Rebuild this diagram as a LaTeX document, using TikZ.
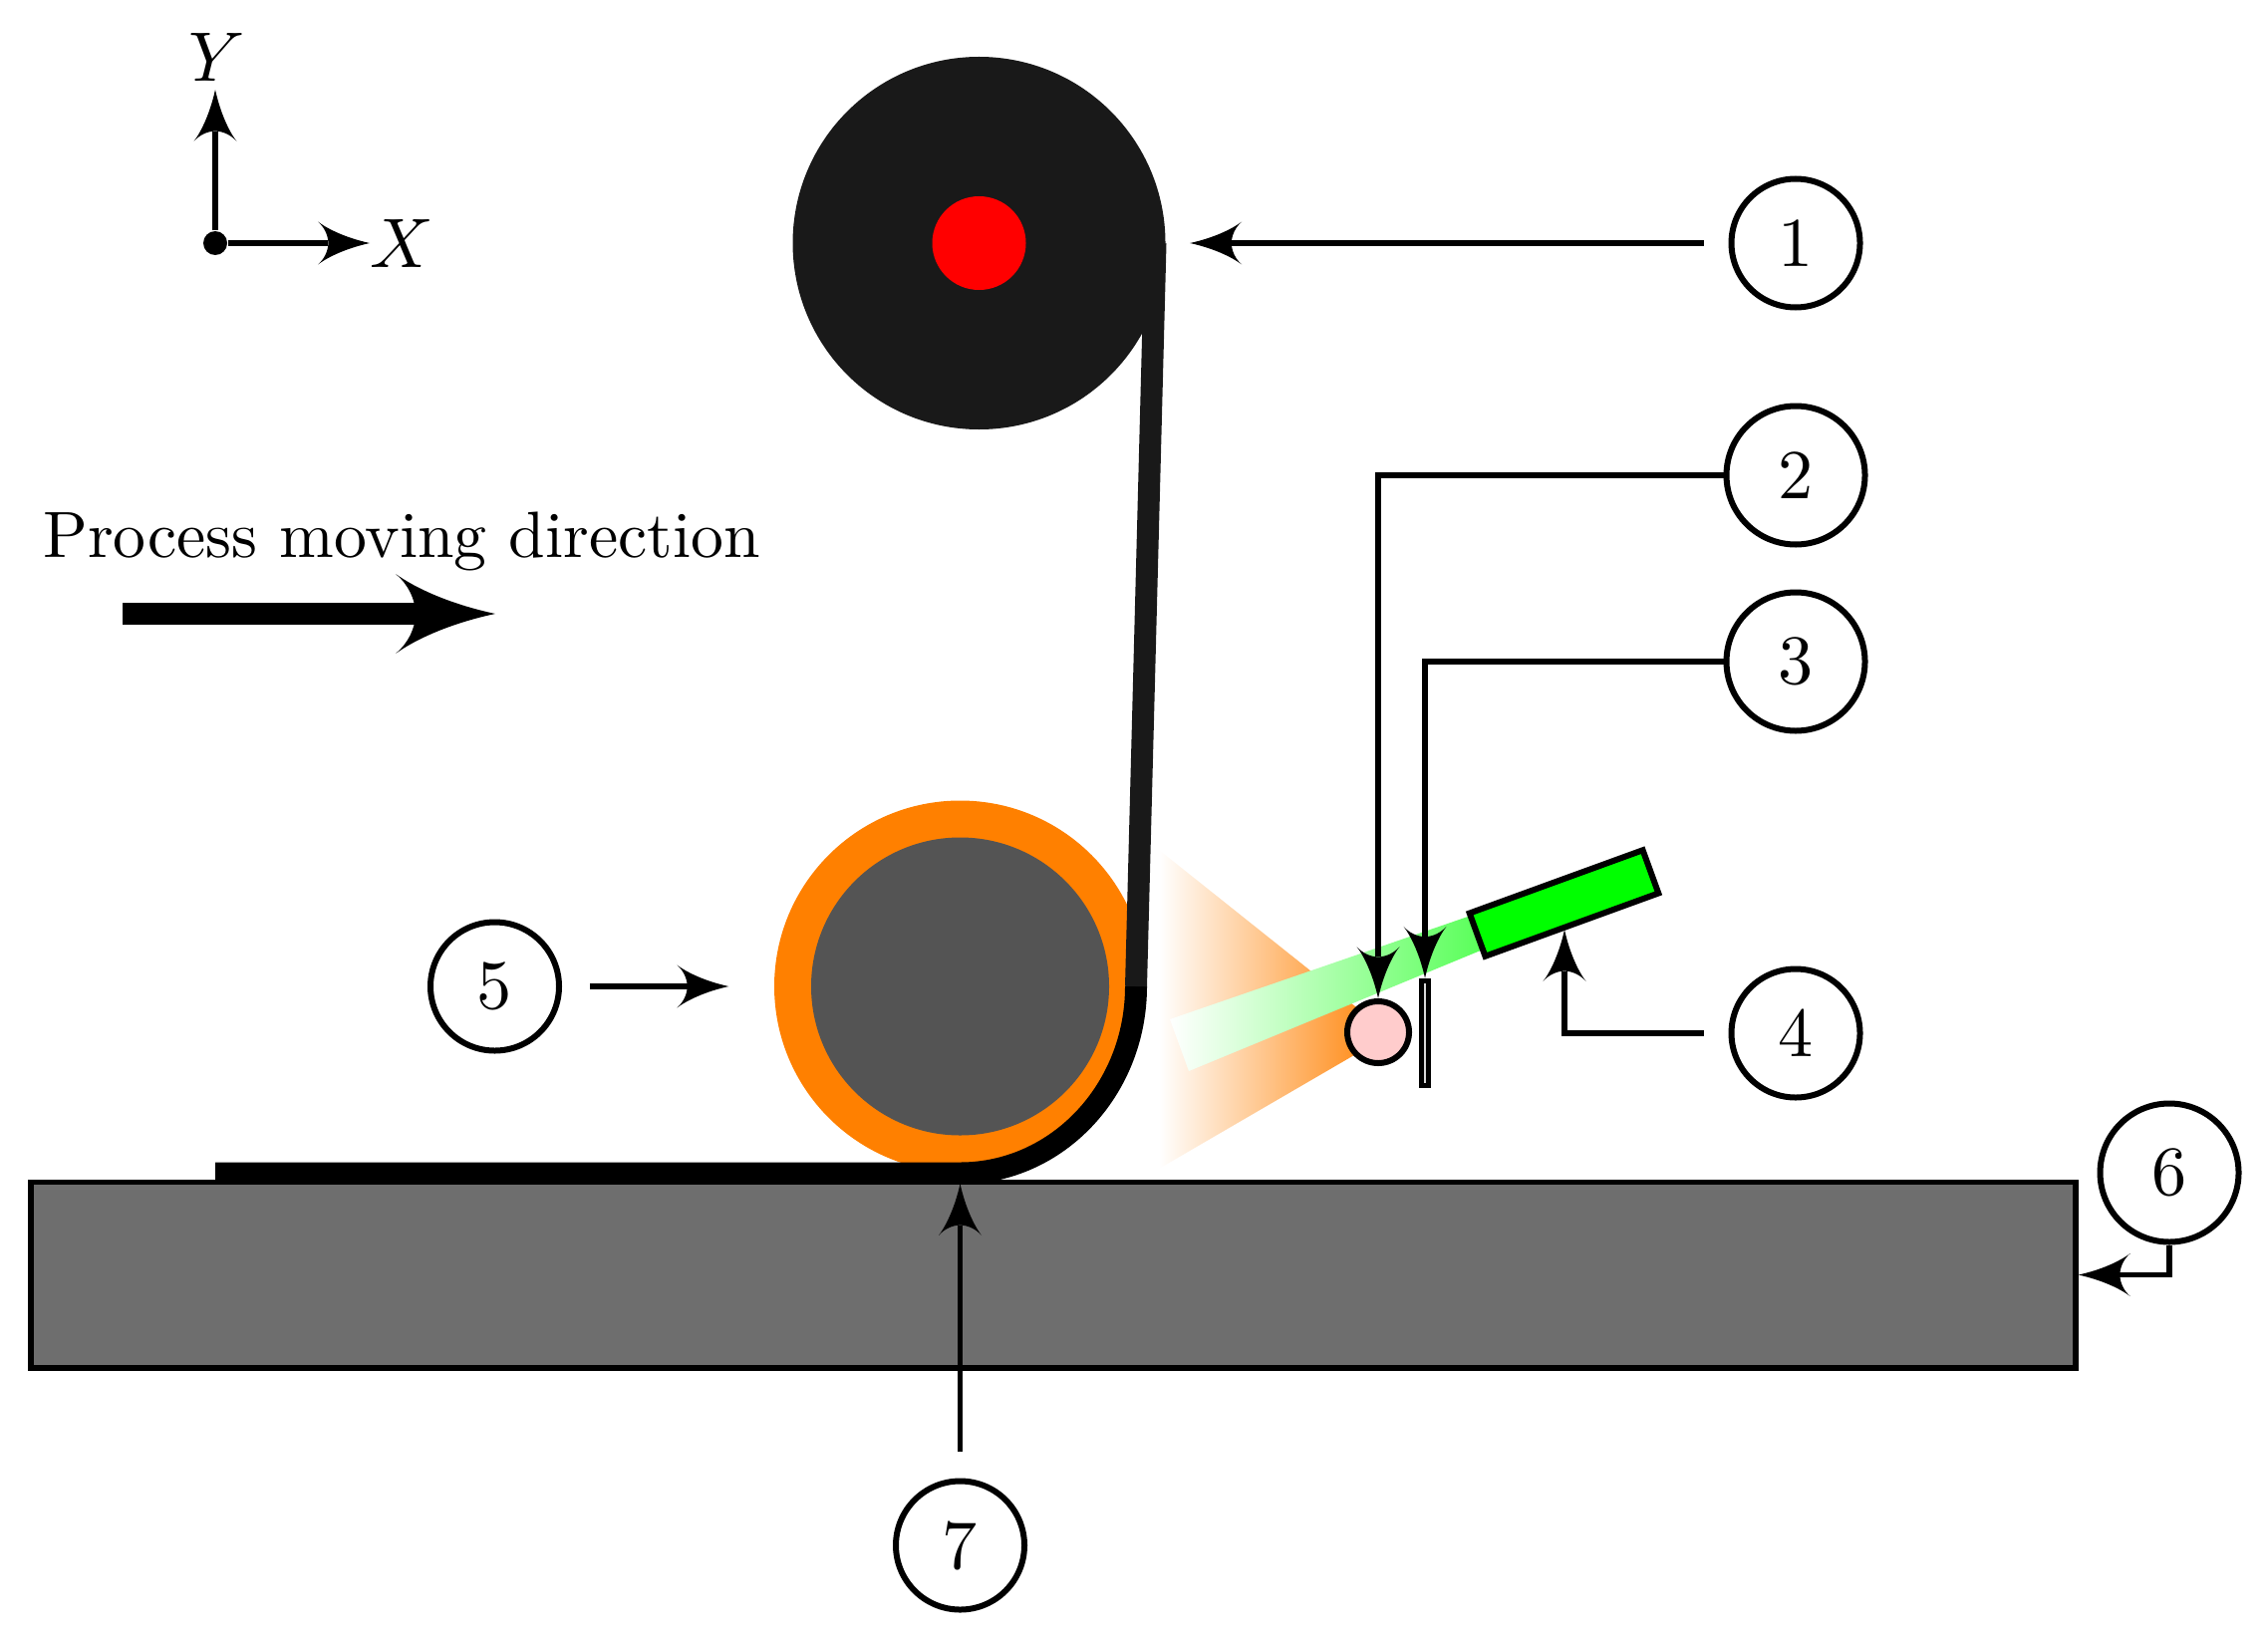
\documentclass[tikz,border=0pt]{standalone}
\usepackage{amsmath,amssymb}
\usepackage{tikz}
\usetikzlibrary{arrows.meta}

% swept-back arrow tip
\pgfdeclarearrow{
	name=Flare,
	parameters={\the\pgfarrowlength,\the\pgfarrowwidth},
	setup code={
		\pgfarrowssettipend{\pgfarrowlength}
		\pgfarrowssetbackend{0pt}
		\pgfarrowssetlineend{.2\pgfarrowlength}
		\pgfarrowssetvisualbackend{.2\pgfarrowlength}
		\pgfarrowshullpoint{\pgfarrowlength}{0pt}
		\pgfarrowshullpoint{0pt}{.5\pgfarrowwidth}
		\pgfarrowshullpoint{0pt}{-.5\pgfarrowwidth}
		\pgfarrowssavethe\pgfarrowlength
		\pgfarrowssavethe\pgfarrowwidth
	},
	drawing code={
		\pgfpathmoveto{\pgfqpoint{\pgfarrowlength}{0pt}}
		\pgfpathcurveto{\pgfqpoint{.55\pgfarrowlength}{.12\pgfarrowwidth}}{\pgfqpoint{.2\pgfarrowlength}{.32\pgfarrowwidth}}{\pgfqpoint{0pt}{.5\pgfarrowwidth}}
		\pgfpathcurveto{\pgfqpoint{.12\pgfarrowlength}{.38\pgfarrowwidth}}{\pgfqpoint{.2\pgfarrowlength}{.18\pgfarrowwidth}}{\pgfqpoint{.2\pgfarrowlength}{0pt}}
		\pgfpathcurveto{\pgfqpoint{.2\pgfarrowlength}{-.18\pgfarrowwidth}}{\pgfqpoint{.12\pgfarrowlength}{-.38\pgfarrowwidth}}{\pgfqpoint{0pt}{-.5\pgfarrowwidth}}
		\pgfpathcurveto{\pgfqpoint{.2\pgfarrowlength}{-.32\pgfarrowwidth}}{\pgfqpoint{.55\pgfarrowlength}{-.12\pgfarrowwidth}}{\pgfqpoint{\pgfarrowlength}{0pt}}
		\pgfpathclose
		\pgfusepathqfill
	},
	defaults={length=5.2mm,width=4.3mm}
}
\newcommand{\lab}[1]{\scalebox{2}{#1}}

\begin{document}
\begin{tikzpicture}[>={Flare[length=5.2mm,width=4.3mm]},
	conn/.style={line width=0.058cm},
	num/.style={draw, circle, fill=white, line width=0.06cm, inner sep=0pt, minimum size=1.29cm},
	numbig/.style={num, minimum size=1.39cm},
	tape/.style={line width=0.22cm}]
	\useasboundingbox (0,0) rectangle (22.76,16.44);
	% beams
	\shade[left color=white, right color=orange] (11.63,7.91) -- (13.95,6.06) -- (11.63,4.71) -- cycle;
	\shade[left color=white, right color=green] (11.74,6.21) -- (16.50,7.85) -- (16.55,7.60) -- (11.93,5.69) -- cycle;
	% machine parts
	\node[draw, fill=black!57, line width=0.055cm, inner sep=0pt, minimum width=20.52cm, minimum height=1.865cm] (base) at (10.57,3.645) {};
	\node[circle, fill=black!90, inner sep=0pt, minimum size=3.74cm] (reel) at (9.825,14) {};
	\fill[red] (reel) circle (0.47);
	\node[circle, fill=orange, inner sep=0pt, minimum size=3.73cm] (roller) at (9.635,6.54) {};
	\fill[black!67] (roller) circle (1.495);
	\draw[tape] (2.16,4.665) -- (9.635,4.665) arc (-90:0:1.765 and 1.875);
	\draw[tape, black!90] (11.40,6.54) -- (11.595,14);
	\node[draw, fill=red!20, circle, line width=0.06cm, inner sep=0pt, minimum size=0.62cm] (spot) at (13.83,6.08) {};
	\node[draw, fill=black!15, line width=0.055cm, inner sep=0pt, minimum width=0.07cm, minimum height=1.05cm] (slit) at (14.30,6.07) {};
	\node[draw, fill=green, line width=0.06cm, inner sep=0pt, minimum width=1.85cm, minimum height=0.46cm, rotate=20] (laser) at (15.695,7.375) {};
	% axes
	\node[circle, fill=black, inner sep=0pt, minimum size=0.24cm] (origin) at (2.16,14) {};
	\coordinate (xtip) at (3.71,14);
	\coordinate (ytip) at (2.16,15.54);
	\draw[conn, ->] (origin) -- (xtip);
	\draw[conn, ->] (origin) -- (ytip);
	\node (xlab) at (4.03,14) {\lab{$X$}};
	\node (ylab) at (2.18,15.87) {\lab{$Y$}};
	% direction
	\coordinate (dirA) at (1.23,10.28);
	\coordinate (dirB) at (4.97,10.28);
	\draw[tape, -{Flare[length=1cm,width=0.8cm]}] (dirA) -- (dirB);
	\node[anchor=base] (dirlab) at (4.03,10.85) {\scalebox{1.87}{Process moving direction}};
	% numbers
	\node[num] (one) at (18.02,14) {\lab{1}};
	\node[numbig] (two) at (18.02,11.67) {\lab{2}};
	\node[numbig] (three) at (18.02,9.80) {\lab{3}};
	\node[num] (four) at (18.02,6.07) {\lab{4}};
	\node[num] (five) at (4.965,6.54) {\lab{5}};
	\node[numbig] (six) at (21.77,4.67) {\lab{6}};
	\node[num] (seven) at (9.635,0.93) {\lab{7}};
	% leaders
	\coordinate (foot) at (15.70,7.11);
	\coordinate (nip) at (9.635,4.56);
	\draw[conn, ->, shorten <=0.25cm, shorten >=0.24cm] (one) -- (reel);
	\draw[conn, ->] (two.west) -| (spot.north);
	\draw[conn, ->] (three.west) -| (slit.north);
	\draw[conn, ->, shorten <=0.25cm] (four.west) -| (foot);
	\draw[conn, ->, shorten <=0.28cm, shorten >=0.45cm] (five) -- (roller);
	\draw[conn, ->] (six.south) |- (base.east);
	\draw[conn, ->, shorten <=0.27cm] (seven) -- (nip);
\end{tikzpicture}
\end{document}
